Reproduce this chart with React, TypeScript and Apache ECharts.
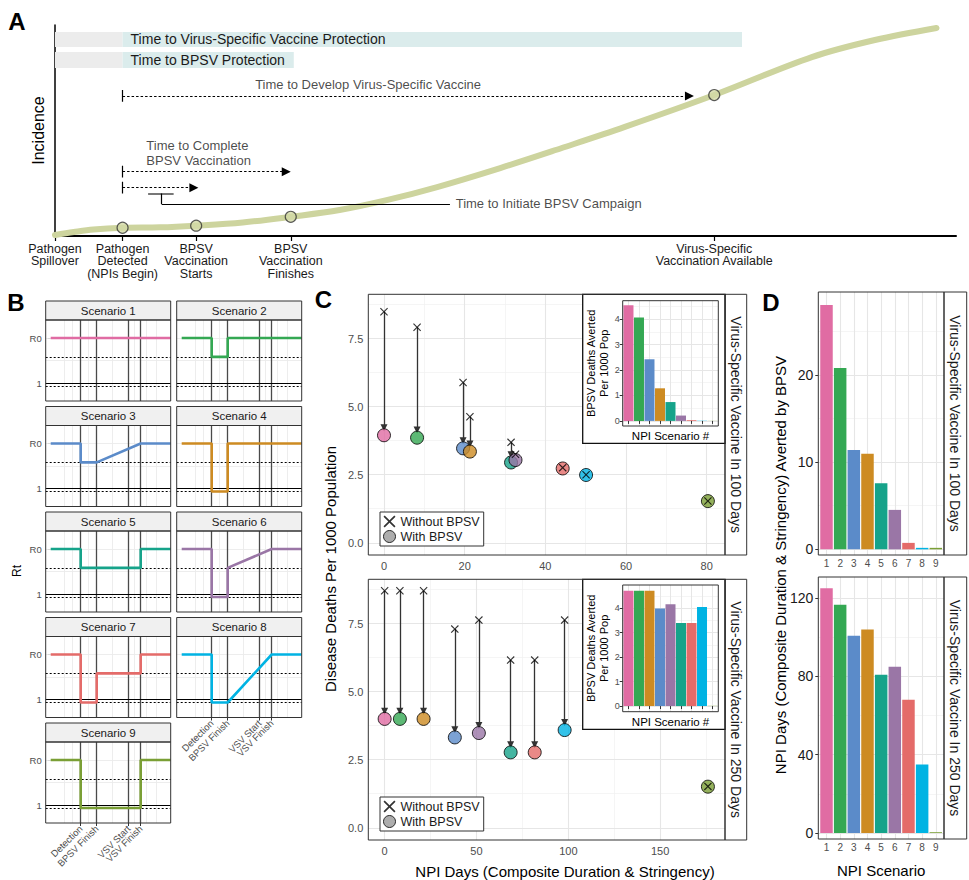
import React, { useEffect, useRef } from "react";
import * as echarts from "echarts";

const FONT = "'Liberation Sans', Arial, Helvetica, sans-serif";

/* ---------------- Panel A: schematic timeline ---------------- */
const curveX = [0, 2.5, 5.1, 9.0, 14, 18.8, 25, 31.4, 37.9, 44.3, 50.9, 59.3, 67.5, 75.9, 87.8, 100.8, 109.2, 117.4];
const curveY = [0.5, 1.9, 3.1, 3.9, 4.1, 4.9, 6.4, 9.1, 12.3, 17.1, 23.2, 32.2, 41.7, 51.7, 66.8, 84.8, 92.9, 98.6];
const milestoneNames = [
  "Pathogen\nSpillover",
  "Pathogen\nDetected\n(NPIs Begin)",
  "BPSV\nVaccination\nStarts",
  "BPSV\nVaccination\nFinishes",
  "Virus-Specific\nVaccination Available",
];
const milestoneX = [0, 9.0, 18.8, 31.4, 87.8];
const milestoneY = [0.5, 3.9, 4.9, 9.1, 66.8];
const bandNames = ["Time to Virus-Specific Vaccine Protection", "Time to BPSV Protection"];
const bandDetectX = [9.0, 9.0];
const bandEndX = [91.5, 31.8];
const bandTopY = [96.7, 87.2];
const bandBottomY = [89.6, 79.6];
const arrowStartX = [9.0, 9.0, 9.0];
const arrowEndX = [84.5, 30.8, 18.5];
const arrowY = [66.4, 30.5, 22.9];
const noteTexts = ["Time to Develop Virus-Specific Vaccine", "Time to Complete\nBPSV Vaccination", "Time to Initiate BPSV Campaign"];
const noteX = [41.7, 12.1, 53.3];
const noteY = [72.0, 39.3, 15.2];
const bracketCapX = [12.4, 15.8];
const bracketCapY = 20.2;
const bracketStemX = 14.2;
const bracketLineY = 15.2;
const bracketLineEndX = 52.6;

/* ---------------- Panel B: Rt scenarios ---------------- */
const scenarioNames = ["Scenario 1", "Scenario 2", "Scenario 3", "Scenario 4", "Scenario 5", "Scenario 6", "Scenario 7", "Scenario 8", "Scenario 9"];
const scenarioColors = ["#E06CA3", "#34A853", "#5B8BC9", "#CD8B22", "#16A38A", "#9A76A6", "#E46B69", "#00B3E3", "#7A9F35"];
const eventDays = [30, 46, 78, 90];
const eventNames = ["Detection", "BPSV Finish", "VSV Start", "VSV Finish"];
const eventDaysA = [30, 78];
const eventDaysB = [46, 90];
const rtTicks = [1, 2.5];
const rtTickNames = ["1", "R0"];
const R0 = 2.5;
const RT_MILD = 1.87;
const RT_STRONG = 0.9;
const rtPaths: number[][][] = [
  [[0, R0], [120, R0]],
  [[0, R0], [30, R0], [30, RT_MILD], [46, RT_MILD], [46, R0], [120, R0]],
  [[0, R0], [30, R0], [30, RT_MILD], [46, RT_MILD], [90, R0], [120, R0]],
  [[0, R0], [30, R0], [30, RT_STRONG], [46, RT_STRONG], [46, R0], [120, R0]],
  [[0, R0], [30, R0], [30, RT_MILD], [90, RT_MILD], [90, R0], [120, R0]],
  [[0, R0], [30, R0], [30, RT_STRONG], [46, RT_STRONG], [46, RT_MILD], [90, R0], [120, R0]],
  [[0, R0], [30, R0], [30, RT_STRONG], [46, RT_STRONG], [46, RT_MILD], [90, RT_MILD], [90, R0], [120, R0]],
  [[0, R0], [30, R0], [30, RT_STRONG], [46, RT_STRONG], [90, R0], [120, R0]],
  [[0, R0], [30, R0], [30, RT_STRONG], [90, RT_STRONG], [90, R0], [120, R0]],
];
const bMinorX = [14, 22, 38, 62, 84, 96, 106];
const bGridY = [1.75, 2.5];

/* ---------------- Panel C: deaths vs NPI days ---------------- */
const npiDays100 = [0, 8.2, 19.6, 21.3, 31.5, 32.6, 44.3, 50.1, 80.3];
const deathsNoBpsv100 = [8.49, 7.92, 5.89, 4.63, 3.69, 3.25, 2.76, 2.5, 1.535];
const deathsBpsv100 = [3.95, 3.86, 3.47, 3.35, 2.95, 3.04, 2.73, 2.49, 1.53];
const npiDays250 = [0, 8.3, 38.2, 21.2, 68.6, 51.3, 81.7, 98, 176];
const deathsNoBpsv250 = [8.71, 8.71, 7.3, 8.71, 6.16, 7.63, 6.16, 7.63, 1.52];
const deathsBpsv250 = [4.0, 4.0, 3.32, 4.0, 2.77, 3.48, 2.77, 3.59, 1.51];
const cTicksX100 = [0, 20, 40, 60, 80];
const cMinorX100 = [10, 30, 50, 70];
const cTicksX250 = [0, 50, 100, 150];
const cMinorX250 = [25, 75, 125, 175];
const cTicksY = [0, 2.5, 5, 7.5];
const cMinorY = [1.25, 3.75, 6.25, 8.75];
const insetTicksY = [0, 1, 2, 3, 4];
const insetMinorY = [0.5, 1.5, 2.5, 3.5, 4.5];
const stripLabels = ["Virus-Specific Vaccine In 100 Days", "Virus-Specific Vaccine In 250 Days"];

/* ---------------- Panel D: NPI days averted ---------------- */
const scenarioNumbers = [1, 2, 3, 4, 5, 6, 7, 8, 9];
const daysAverted100 = [28.0, 20.8, 11.4, 10.96, 7.57, 4.52, 0.74, 0.17, 0.17];
const daysAverted250 = [125, 116.6, 100.8, 104, 80.9, 84.9, 68.1, 35, 0.4];
const dTicks100 = [0, 10, 20];
const dMinor100 = [5, 15, 25];
const dTicks250 = [0, 40, 80, 120];
const dMinor250 = [20, 60, 100];

const X_PATH = "path://M0,1L1,0L5,4L9,0L10,1L6,5L10,9L9,10L5,6L1,10L0,9L4,5Z";
const ARROW_GAP = 0.28;

const nearest = (arr: number[], v: number) => {
  let b = 0;
  arr.forEach((a, i) => {
    if (Math.abs(a - v) < Math.abs(arr[b] - v)) b = i;
  });
  return b;
};

const LBL = { hideOverlap: false, showMinLabel: true, showMaxLabel: true };

function buildOption() {
  const grid: any[] = [];
  const xAxis: any[] = [];
  const yAxis: any[] = [];
  const extraX: any[] = [];
  const series: any[] = [];
  const graphic: any[] = [];
  const legend: any[] = [];

  const add = (g: any, x: any, y: any) => {
    const i = grid.length;
    grid.push({ show: false, containLabel: false, outerBoundsMode: "none", ...g });
    xAxis.push({ gridIndex: i, ...x });
    yAxis.push({ gridIndex: i, ...y });
    return i;
  };

  const guides = (i: number, xs: number[], ys: number[], xr: number[], yr: number[], color: string, width: number, z: number, type: any = "solid") => {
    series.push({
      type: "lines",
      coordinateSystem: "cartesian2d",
      xAxisIndex: i,
      yAxisIndex: i,
      silent: true,
      z,
      symbol: ["none", "none"],
      lineStyle: { color, width, type, opacity: 1 },
      data: [
        ...xs.map((v) => ({ coords: [[v, yr[0]], [v, yr[1]]] })),
        ...ys.map((v) => ({ coords: [[xr[0], v], [xr[1], v]] })),
      ],
    });
  };

  const txt = (x: number, y: number, text: string, fontSize: number, o: any = {}) => ({
    type: "text",
    x,
    y,
    z: o.z ?? 10,
    rotation: o.rotation || 0,
    style: {
      text,
      fontSize,
      fontFamily: FONT,
      fontWeight: o.bold ? "bold" : "normal",
      fill: o.fill || "#000",
      align: o.align || "center",
      verticalAlign: "middle",
    },
  });
  const rect = (x: number, y: number, w: number, h: number, fill: string, stroke: string, lw: number, z: number) => ({
    type: "rect",
    z,
    shape: { x, y, width: w, height: h },
    style: { fill, stroke, lineWidth: lw },
  });

  /* ===== Panel A ===== */
  const a = add(
    { left: 55, top: 25, width: 901, height: 211 },
    {
      type: "value",
      min: 0,
      max: 120,
      axisLine: { show: true, onZero: false, lineStyle: { color: "#000", width: 2 } },
      axisTick: { show: true, customValues: milestoneX, length: 5, lineStyle: { color: "#000", width: 1.2 } },
      axisLabel: {
        show: true,
        customValues: milestoneX,
        ...LBL,
        formatter: (v: number) => milestoneNames[nearest(milestoneX, v)],
        fontSize: 12.5,
        lineHeight: 12.3,
        color: "#1a1a1a",
        margin: 7,
      },
      splitLine: { show: false },
    },
    {
      type: "value",
      min: 0,
      max: 100,
      axisLine: { show: true, onZero: false, lineStyle: { color: "#000", width: 1.5 } },
      axisTick: { show: false },
      axisLabel: { show: false },
      splitLine: { show: false },
      name: "Incidence",
      nameLocation: "middle",
      nameGap: 9,
      nameTextStyle: { fontSize: 16, color: "#000" },
    }
  );
  series.push({
    type: "line",
    xAxisIndex: a,
    yAxisIndex: a,
    data: [],
    silent: true,
    markArea: {
      silent: true,
      label: { show: false },
      data: bandNames.flatMap((name, k) => [
        [
          { xAxis: 0, yAxis: bandTopY[k], itemStyle: { color: "#ececec" }, label: { show: false } },
          { xAxis: bandDetectX[k], yAxis: bandBottomY[k] },
        ],
        [
          {
            xAxis: bandDetectX[k],
            yAxis: bandTopY[k],
            itemStyle: { color: "#dbecec" },
            label: { show: true, position: "insideLeft", distance: 8, formatter: name, fontSize: 14, color: "#1a1a1a", fontFamily: FONT },
          },
          { xAxis: bandEndX[k], yAxis: bandBottomY[k] },
        ],
      ]),
    },
  });
  series.push({
    type: "line",
    xAxisIndex: a,
    yAxisIndex: a,
    data: curveX.map((x, i) => [x, curveY[i]]),
    smooth: 0.35,
    symbol: "none",
    silent: true,
    z: 3,
    lineStyle: { color: "#cdd49e", width: 6, cap: "round" },
  });
  series.push({
    type: "scatter",
    xAxisIndex: a,
    yAxisIndex: a,
    silent: true,
    z: 5,
    data: milestoneX.slice(1).map((x, i) => [x, milestoneY[i + 1]]),
    symbolSize: 11,
    itemStyle: { color: "#d3d9a6", borderColor: "#333", borderWidth: 1.2 },
  });
  series.push({
    type: "lines",
    coordinateSystem: "cartesian2d",
    xAxisIndex: a,
    yAxisIndex: a,
    silent: true,
    z: 4,
    symbol: ["none", "triangle"],
    symbolSize: 9,
    lineStyle: { color: "#000", width: 1.2, type: [2.5, 2], opacity: 1 },
    data: arrowY.map((y, k) => ({ coords: [[arrowStartX[k], y], [arrowEndX[k], y]] })),
  });
  series.push({
    type: "lines",
    coordinateSystem: "cartesian2d",
    xAxisIndex: a,
    yAxisIndex: a,
    silent: true,
    z: 4,
    symbol: ["none", "none"],
    lineStyle: { color: "#000", width: 1.2, opacity: 1 },
    data: [
      ...arrowY.map((y, k) => ({ coords: [[arrowStartX[k], y - 2.8], [arrowStartX[k], y + 2.8]] })),
      { coords: [[bracketCapX[0], bracketCapY], [bracketCapX[1], bracketCapY]], lineStyle: { color: "#777", width: 2 } },
      { coords: [[bracketStemX, bracketCapY], [bracketStemX, bracketLineY]] },
      { coords: [[bracketStemX, bracketLineY], [bracketLineEndX, bracketLineY]] },
    ],
  });
  series.push({
    type: "scatter",
    xAxisIndex: a,
    yAxisIndex: a,
    silent: true,
    z: 5,
    symbolSize: 1,
    itemStyle: { color: "rgba(0,0,0,0)" },
    label: { show: true, formatter: "{b}", fontSize: 13, color: "#1a1a1a", lineHeight: 15.7, fontFamily: FONT },
    data: noteTexts.map((t, k) => ({
      name: t,
      value: [noteX[k], noteY[k]],
      label: k === 0 ? { position: "inside" } : { position: "right", distance: 0, align: "left" },
    })),
  });

  /* ===== Panel B ===== */
  const colLeft = [45.7, 176.7];
  const bW = 125;
  const bH = 81;
  const bTop0 = 320;
  const bPitch = 105.5;
  const stripH = 19;
  const bxr = [-5, 120];
  const byr = [0.4, 3.1];
  const eventLabel = (vals: number[]) => ({
    show: true,
    customValues: vals,
    ...LBL,
    formatter: (v: number) => eventNames[nearest(eventDays, v)],
    rotate: 45,
    fontSize: 9.5,
    color: "#4d4d4d",
    margin: 4,
  });
  rtPaths.forEach((path, s) => {
    const col = s % 2;
    const row = Math.floor(s / 2);
    const left = colLeft[col];
    const top = bTop0 + row * bPitch;
    const showX = s === 7 || s === 8;
    const showY = col === 0;
    const i = add(
      { left, top, width: bW, height: bH, show: true, borderColor: "#333", borderWidth: 1, z: 6 },
      {
        type: "value",
        min: bxr[0],
        max: bxr[1],
        position: "bottom",
        axisLine: { show: false },
        splitLine: { show: false },
        axisTick: { show: showX, customValues: eventDays, length: 3, lineStyle: { color: "#333" } },
        axisLabel: showX ? eventLabel(eventDaysA) : { show: false },
      },
      {
        type: "value",
        min: byr[0],
        max: byr[1],
        axisLine: { show: false },
        splitLine: { show: false },
        axisTick: { show: showY, customValues: rtTicks, length: 3, lineStyle: { color: "#333" } },
        axisLabel: {
          show: showY,
          customValues: rtTicks,
          ...LBL,
          formatter: (v: number) => rtTickNames[nearest(rtTicks, v)],
          fontSize: 9.5,
          color: "#4d4d4d",
          margin: 4,
        },
      }
    );
    if (showX) {
      extraX.push({
        gridIndex: i,
        type: "value",
        min: bxr[0],
        max: bxr[1],
        position: "bottom",
        offset: 0,
        axisLine: { show: false },
        axisTick: { show: false },
        splitLine: { show: false },
        axisLabel: eventLabel(eventDaysB),
      });
    }
    guides(i, bMinorX, bGridY, bxr, byr, "#ebebeb", 0.9, 1);
    guides(i, eventDays, [], bxr, byr, "#4a4a4a", 1.3, 2);
    guides(i, [], [1], bxr, byr, "#000", 1.2, 2);
    guides(i, [], [RT_MILD, RT_STRONG], bxr, byr, "#000", 1, 2, [2, 2]);
    series.push({
      type: "line",
      xAxisIndex: i,
      yAxisIndex: i,
      data: path,
      symbol: "none",
      silent: true,
      z: 3,
      lineStyle: { color: scenarioColors[s], width: 2.6 },
    });
    graphic.push(rect(left, top - stripH, bW, stripH, "#f0f0f0", "#333", 1, 5));
    graphic.push(txt(left + bW / 2, top - stripH / 2, scenarioNames[s], 11.5, { fill: "#1a1a1a" }));
  });
  graphic.push(txt(17, 571, "Rt", 12, { rotation: Math.PI / 2 }));

  /* ===== Panel C ===== */
  const cFacets = [
    { days: npiDays100, no: deathsNoBpsv100, yes: deathsBpsv100, xMin: -3.89, xMax: 84.54, ticks: cTicksX100, minor: cMinorX100, top: 294.3, insetTop: 300.7, insetH: 125.3, insetMin: -0.2, insetMax: 4.72, frameH: 149, legendTop: 512 },
    { days: npiDays250, no: deathsNoBpsv250, yes: deathsBpsv250, xMin: -8.9, xMax: 185.3, ticks: cTicksX250, minor: cMinorX250, top: 579.3, insetTop: 585, insetH: 126.7, insetMin: -0.23, insetMax: 4.94, frameH: 150, legendTop: 797 },
  ];
  const cLeft = 368.3;
  const cW = 356.7;
  const cH = 260.7;
  const cyr = [-0.45, 9.13];
  cFacets.forEach((f, fi) => {
    const xr = [f.xMin, f.xMax];
    const i = add(
      { left: cLeft, top: f.top, width: cW, height: cH, show: true, borderColor: "#333", borderWidth: 1, z: 6 },
      {
        type: "value",
        min: f.xMin,
        max: f.xMax,
        axisLine: { show: false },
        splitLine: { show: false },
        axisTick: { show: true, customValues: f.ticks, length: 3, lineStyle: { color: "#333" } },
        axisLabel: { show: true, customValues: f.ticks, ...LBL, fontSize: 11, color: "#4d4d4d", margin: 5 },
      },
      {
        type: "value",
        min: cyr[0],
        max: cyr[1],
        axisLine: { show: false },
        splitLine: { show: false },
        axisTick: { show: true, customValues: cTicksY, length: 3, lineStyle: { color: "#333" } },
        axisLabel: { show: true, customValues: cTicksY, ...LBL, formatter: (v: number) => v.toFixed(1), fontSize: 11, color: "#4d4d4d", margin: 5 },
      }
    );
    guides(i, f.minor, cMinorY, xr, cyr, "#f1f1f1", 0.7, 1);
    guides(i, f.ticks, cTicksY, xr, cyr, "#e6e6e6", 1.1, 1);
    series.push({
      type: "lines",
      coordinateSystem: "cartesian2d",
      xAxisIndex: i,
      yAxisIndex: i,
      silent: true,
      z: 3,
      symbol: ["none", "triangle"],
      symbolSize: 7,
      lineStyle: { color: "#333", width: 1.3, opacity: 1 },
      data: f.days
        .map((d, k) => ({ d, k }))
        .filter(({ k }) => f.no[k] - f.yes[k] > 0.3)
        .map(({ d, k }) => ({ coords: [[d, f.no[k]], [d, f.yes[k] + ARROW_GAP]] })),
    });
    series.push({
      type: "scatter",
      name: "With BPSV",
      xAxisIndex: i,
      yAxisIndex: i,
      silent: true,
      z: 4,
      symbol: "circle",
      symbolSize: 13,
      itemStyle: { color: "#999", borderColor: "#000", borderWidth: 1 },
      data: f.days.map((d, k) => ({ value: [d, f.yes[k]], itemStyle: { color: scenarioColors[k] } })),
    });
    series.push({
      type: "scatter",
      name: "Without BPSV",
      xAxisIndex: i,
      yAxisIndex: i,
      silent: true,
      z: 5,
      symbol: X_PATH,
      symbolSize: 8,
      itemStyle: { color: "#000" },
      data: f.days.map((d, k) => [d, f.no[k]]),
    });
    legend.push({
      orient: "vertical",
      left: 380,
      top: f.legendTop,
      itemGap: 2,
      itemWidth: 12,
      itemHeight: 12,
      padding: [3, 4, 3, 3],
      borderColor: "#333",
      borderWidth: 1,
      borderRadius: 0,
      backgroundColor: "#fff",
      selectedMode: false,
      z: 4,
      textStyle: { fontSize: 12.5, color: "#1a1a1a", fontFamily: FONT },
      data: [
        { name: "Without BPSV", icon: X_PATH, itemStyle: { color: "#000", borderWidth: 0 } },
        { name: "With BPSV", icon: "circle", itemStyle: { color: "#999", borderColor: "#000", borderWidth: 1 } },
      ],
    });
    // strip
    graphic.push(rect(cLeft + cW, f.top, 21.7, cH, "#fff", "#333", 1, 5));
    graphic.push(txt(cLeft + cW + 10.8, f.top + cH / 2, stripLabels[fi], 14, { rotation: -Math.PI / 2, fill: "#1a1a1a" }));

    // inset
    const order = f.days.map((d, k) => k).sort((p, q) => f.days[p] - f.days[q]);
    graphic.push(rect(582.7, f.top, cLeft + cW - 582.7, f.frameH, "#fff", "#111", 1.3, 5));
    const ixr = [0.45, 9.55];
    const iyr = [f.insetMin, f.insetMax];
    const j = add(
      { left: 622.7, top: f.insetTop, width: 95.6, height: f.insetH, show: true, borderColor: "#333", borderWidth: 1, z: 8 },
      {
        type: "value",
        min: ixr[0],
        max: ixr[1],
        z: 7,
        axisLine: { show: false },
        splitLine: { show: false },
        axisTick: { show: true, customValues: scenarioNumbers, length: 3, lineStyle: { color: "#333" } },
        axisLabel: { show: false },
        name: "NPI Scenario #",
        nameLocation: "middle",
        nameGap: 4,
        nameTextStyle: { fontSize: 11.5, color: "#000", verticalAlign: "top" },
      },
      {
        type: "value",
        min: iyr[0],
        max: iyr[1],
        z: 7,
        axisLine: { show: false },
        splitLine: { show: false },
        axisTick: { show: true, customValues: insetTicksY, length: 3, lineStyle: { color: "#333" } },
        axisLabel: { show: true, customValues: insetTicksY, ...LBL, fontSize: 9, color: "#4d4d4d", margin: 3 },
        name: "BPSV Deaths Averted\nPer 1000 Pop",
        nameLocation: "middle",
        nameGap: 12,
        nameTextStyle: { fontSize: 11, lineHeight: 13, color: "#000" },
      }
    );
    guides(j, [], insetMinorY, ixr, iyr, "#f1f1f1", 0.7, 6);
    guides(j, scenarioNumbers, insetTicksY, ixr, iyr, "#e6e6e6", 1, 6);
    series.push({
      type: "bar",
      xAxisIndex: j,
      yAxisIndex: j,
      silent: true,
      z: 7,
      barWidth: 10,
      data: order.map((k, pos) => ({
        value: [scenarioNumbers[pos], f.no[k] - f.yes[k]],
        itemStyle: { color: scenarioColors[k] },
      })),
    });
  });
  graphic.push(txt(330, 569, "Disease Deaths Per 1000 Population", 15, { rotation: Math.PI / 2 }));
  graphic.push(txt(565, 871.5, "NPI Days (Composite Duration & Stringency)", 15));

  /* ===== Panel D ===== */
  const dFacets = [
    { values: daysAverted100, top: 292, h: 263, yMin: -0.65, yMax: 29.5, ticks: dTicks100, minor: dMinor100 },
    { values: daysAverted250, top: 577, h: 262, yMin: -3.1, yMax: 130.8, ticks: dTicks250, minor: dMinor250 },
  ];
  const dLeft = 818.3;
  const dW = 125.7;
  dFacets.forEach((f, fi) => {
    const xr = [0.4, 9.6];
    const yr = [f.yMin, f.yMax];
    const i = add(
      { left: dLeft, top: f.top, width: dW, height: f.h, show: true, borderColor: "#333", borderWidth: 1, z: 6 },
      {
        type: "value",
        min: xr[0],
        max: xr[1],
        axisLine: { show: false },
        splitLine: { show: false },
        axisTick: { show: true, customValues: scenarioNumbers, length: 3, lineStyle: { color: "#333" } },
        axisLabel: { show: true, customValues: scenarioNumbers, ...LBL, fontSize: 10, color: "#4d4d4d", margin: 3 },
        ...(fi === 1
          ? { name: "NPI Scenario", nameLocation: "middle", nameGap: 24, nameTextStyle: { fontSize: 15, color: "#000" } }
          : {}),
      },
      {
        type: "value",
        min: yr[0],
        max: yr[1],
        axisLine: { show: false },
        splitLine: { show: false },
        axisTick: { show: true, customValues: f.ticks, length: 3, lineStyle: { color: "#333" } },
        axisLabel: { show: true, customValues: f.ticks, ...LBL, fontSize: 14, color: "#1a1a1a", margin: 5 },
      }
    );
    guides(i, [], f.minor, xr, yr, "#f1f1f1", 0.7, 1);
    guides(i, scenarioNumbers, f.ticks, xr, yr, "#e6e6e6", 1.1, 1);
    series.push({
      type: "bar",
      xAxisIndex: i,
      yAxisIndex: i,
      silent: true,
      z: 3,
      barWidth: 12.5,
      data: scenarioNumbers.map((n, k) => ({ value: [n, f.values[k]], itemStyle: { color: scenarioColors[k] } })),
    });
    graphic.push(rect(dLeft + dW, f.top, 22.7, f.h, "#fff", "#333", 1, 5));
    graphic.push(txt(dLeft + dW + 11.3, f.top + f.h / 2, stripLabels[fi], 14, { rotation: -Math.PI / 2, fill: "#1a1a1a" }));
  });
  graphic.push(txt(780, 565, "NPI Days (Composite Duration & Stringency) Averted by BPSV", 15, { rotation: Math.PI / 2 }));

  /* ===== panel letters ===== */
  graphic.push(txt(17, 21, "A", 24, { bold: true }));
  graphic.push(txt(16, 302, "B", 24, { bold: true }));
  graphic.push(txt(323.5, 299, "C", 24, { bold: true }));
  graphic.push(txt(771, 302, "D", 24, { bold: true }));

  return {
    animation: false,
    backgroundColor: "#fff",
    textStyle: { fontFamily: FONT },
    grid,
    xAxis: [...xAxis, ...extraX],
    yAxis,
    series,
    legend,
    graphic: { elements: graphic },
  };
}

export default function App() {
  const ref = useRef<HTMLDivElement>(null);
  useEffect(() => {
    document.body.style.margin = "0";
    const chart = echarts.init(ref.current as HTMLDivElement, undefined, { renderer: "svg" });
    chart.setOption(buildOption() as any);
    return () => chart.dispose();
  }, []);
  return <div ref={ref} style={{ width: 969, height: 880 }} />;
}
